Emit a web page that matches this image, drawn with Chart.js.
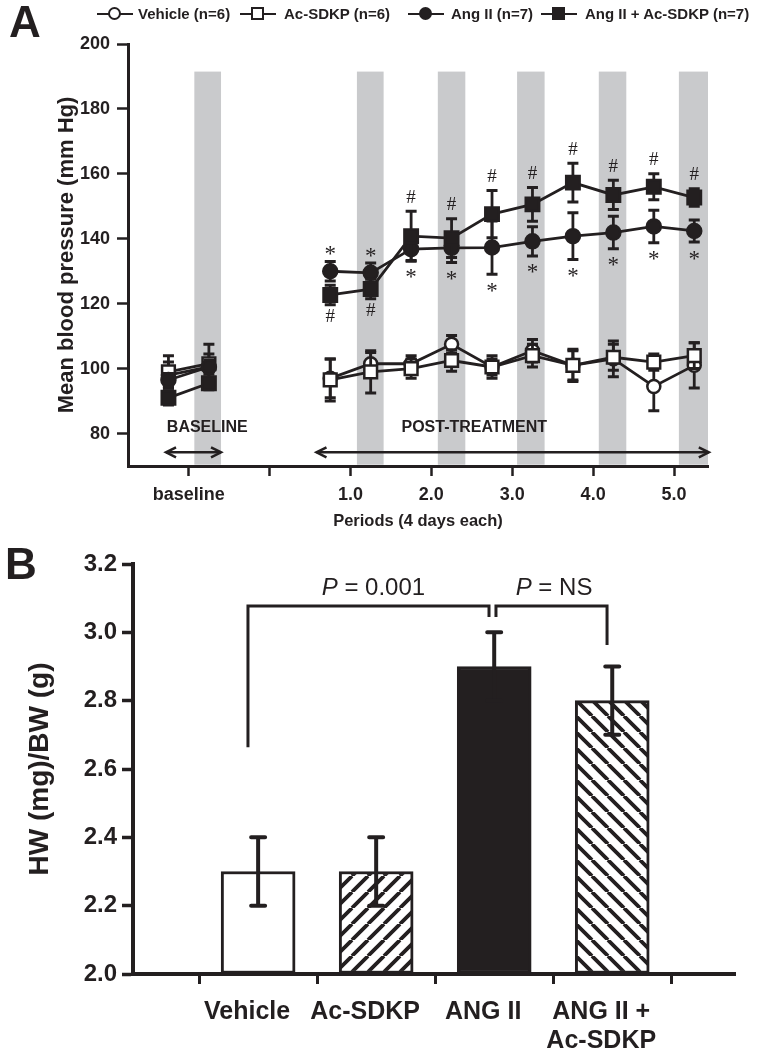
<!DOCTYPE html>
<html><head><meta charset="utf-8">
<script src="https://cdn.jsdelivr.net/npm/chart.js@4.4.1/dist/chart.umd.min.js"></script>
<style>
html,body{margin:0;padding:0;background:#fff;}
body{width:762px;height:1050px;position:relative;overflow:hidden;font-family:'Liberation Sans',Arial,sans-serif;color:#231f20;}
canvas{position:absolute;left:0;}
#cA{top:0;}
#cB{top:540px;}
.panel{position:absolute;font-weight:bold;font-size:44px;line-height:44px;}
.legtxt{position:absolute;top:6px;font-weight:bold;font-size:15px;line-height:16px;white-space:nowrap;}
.sym{position:absolute;top:6px;width:36px;height:16px;}
.sym .ln{position:absolute;left:0;width:36px;top:6.75px;height:2.5px;background:#231f20;}
.sym .mk{position:absolute;left:11px;top:1px;width:9px;height:9px;border:2.5px solid #231f20;background:#fff;}
.sym .mk.c{border-radius:50%;}
.sym .mk.f{background:#231f20;}
</style></head><body>
<canvas id="cA" width="762" height="540"></canvas>
<canvas id="cB" width="762" height="510"></canvas>
<div class="panel" style="left:9px;top:0px">A</div>
<div class="panel" style="left:5px;top:542px">B</div>
<div id="legend"></div>
<script>
// ---------------- DATA: panel A ----------------
const seriesNames = ['Vehicle (n=6)', 'Ac-SDKP (n=6)', 'Ang II (n=7)', 'Ang II + Ac-SDKP (n=7)'];
const periodTickValues = [-1, 0, 1, 2, 3, 4, 5];
const periodTickLabels = ['baseline', '', '1.0', '2.0', '3.0', '4.0', '5.0'];
const baselineTimes = [-1.25, -0.75];
const postTimes = [0.75, 1.25, 1.75, 2.25, 2.75, 3.25, 3.75, 4.25, 4.75, 5.25];

const vehicleBase = [98, 100.5];
const vehicleBaseErr = [4, 4];
const vehiclePost = [97, 101.5, 101.5, 107.5, 100.5, 105.5, 101, 103, 94.5, 101];
const vehiclePostErr = [6, 3.5, 2.5, 2.7, 2.5, 3.5, 4.5, 5.5, 7.5, 7];

const acBase = [99, 101.5];
const acBaseErr = [5, 6];
const acPost = [96.5, 99, 100, 102.5, 100.5, 104, 101, 103.5, 102, 104];
const acPostErr = [6.5, 6.5, 3, 3.3, 3.5, 3.5, 5, 4, 2.5, 4];

const angBase = [96.5, 100.5];
const angBaseErr = [2, 2];
const angPost = [130, 129.5, 136.8, 137.2, 137.3, 139.2, 140.8, 141.9, 143.8, 142.4];
const angPostErr = [3, 3, 3.5, 4.5, 8.2, 4.5, 7.2, 5, 5, 3.4];

const comboBase = [91, 95.5];
const comboBaseErr = [2.2, 2];
const comboPost = [122.7, 124.5, 140.8, 140.2, 147.6, 150.6, 157.3, 153.5, 156, 152.7];
const comboPostErr = [3, 3, 7.7, 6, 7.3, 5.2, 6, 4.5, 4, 2.7];

// significance marks on post-treatment points
const hashSide = ['below','below','above','above','above','above','above','above','above','above']; // Ang II + Ac-SDKP
const starSide = ['above','above','below','below','below','below','below','below','below','below']; // Ang II

// shaded periods (x ranges) and their vertical extent
const grayBands = [[-0.93, -0.60], [1.08, 1.41], [2.08, 2.42], [3.06, 3.40], [4.07, 4.41], [5.06, 5.42]];
const grayBandRange = [70.4, 191.5];

// ---------------- DATA: panel B ----------------
const hwCats = ['Vehicle', 'Ac-SDKP', 'ANG II', ['ANG II +', 'Ac-SDKP']];
const hwPos = [1, 2, 3, 4];
const hwMean = [2.3, 2.3, 2.9, 2.8];
const hwSem = [0.1, 0.1, 0.1, 0.1];
const hwTicks = [2.0, 2.2, 2.4, 2.6, 2.8, 3.0, 3.2];

// ---------------- helpers ----------------
const INK = '#231f20';
const F = "'Liberation Sans', Arial, sans-serif";
const SERIF = "'Liberation Serif', 'Times New Roman', serif";
function hasFont(name) {
  const c = document.createElement('canvas').getContext('2d');
  c.font = 'bold 40px monospace';
  const a = c.measureText('Ac-SDKP mmmWW').width;
  c.font = `bold 40px "${name}", monospace`;
  const b = c.measureText('Ac-SDKP mmmWW').width;
  return Math.abs(a - b) > 0.5;
}
const NARROW_OK = hasFont('Liberation Sans Narrow');
const FN = NARROW_OK ? "'Liberation Sans Narrow', 'Liberation Sans', Arial, sans-serif" : F;

function series(base, post) {
  return [...base.map((v, i) => ({x: baselineTimes[i], y: v})), {x: 0, y: null},
          ...post.map((v, i) => ({x: postTimes[i], y: v}))];
}
function errs(base, post) { return [...base, null, ...post]; }

// legend (HTML)
(function buildLegend() {
  const symLeft = [97, 240, 408, 541];
  const txtLeft = [138, 284, 451, 585];
  const mk = ['mk c', 'mk', 'mk c f', 'mk f'];
  const L = document.getElementById('legend');
  seriesNames.forEach((n, i) => {
    const s = document.createElement('div');
    s.className = 'sym'; s.style.left = symLeft[i] + 'px';
    s.innerHTML = '<div class="ln"></div><div class="' + mk[i] + '"></div>';
    L.appendChild(s);
    const t = document.createElement('div');
    t.className = 'legtxt'; t.style.left = txtLeft[i] + 'px'; t.textContent = n;
    L.appendChild(t);
  });
})();

// ---------------- plugins panel A ----------------
const bandsPlugin = {
  id: 'bands',
  beforeDatasetsDraw(chart) {
    const {ctx, scales: {x, y}} = chart;
    ctx.save();
    ctx.fillStyle = '#c9cacc';
    const yt = y.getPixelForValue(grayBandRange[1]), yb = y.getPixelForValue(grayBandRange[0]);
    grayBands.forEach(([a, b]) => {
      const xa = x.getPixelForValue(a), xb = x.getPixelForValue(b);
      ctx.fillRect(xa, yt, xb - xa, yb - yt);
    });
    ctx.restore();
  }
};
const errPluginA = {
  id: 'errA',
  beforeDatasetDraw(chart, args) {
    const ds = chart.data.datasets[args.index];
    if (!ds.err) return;
    const {ctx} = chart, ys = chart.scales.y;
    ctx.save();
    ctx.strokeStyle = INK;
    args.meta.data.forEach((pt, i) => {
      const v = ds.data[i].y, e = ds.err[i];
      if (v == null || e == null) return;
      const x = pt.x, yt = ys.getPixelForValue(v + e), yb = ys.getPixelForValue(v - e);
      ctx.lineWidth = 2.8;
      ctx.beginPath(); ctx.moveTo(x, yt); ctx.lineTo(x, yb); ctx.stroke();
      ctx.lineWidth = 3;
      ctx.beginPath();
      ctx.moveTo(x - 5.5, yt); ctx.lineTo(x + 5.5, yt);
      ctx.moveTo(x - 5.5, yb); ctx.lineTo(x + 5.5, yb);
      ctx.stroke();
    });
    ctx.restore();
  }
};
function centeredGlyph(ctx, ch, x, y) {
  const m = ctx.measureText(ch);
  const off = (m.actualBoundingBoxAscent - m.actualBoundingBoxDescent) / 2;
  ctx.fillText(ch, x, y + off);
}
function arrow(ctx, x1, x2, y) {
  const L = 10, W = 5;
  ctx.beginPath(); ctx.moveTo(x1, y); ctx.lineTo(x2, y); ctx.stroke();
  ctx.beginPath(); ctx.moveTo(x1 + L, y - W); ctx.lineTo(x1, y); ctx.lineTo(x1 + L, y + W); ctx.stroke();
  ctx.beginPath(); ctx.moveTo(x2 - L, y - W); ctx.lineTo(x2, y); ctx.lineTo(x2 - L, y + W); ctx.stroke();
}
const marksPluginA = {
  id: 'marksA',
  afterDatasetsDraw(chart) {
    const {ctx, scales: {x, y}} = chart;
    ctx.save();
    ctx.fillStyle = INK;
    ctx.textAlign = 'center';
    ctx.textBaseline = 'alphabetic';
    postTimes.forEach((t, i) => {
      const px = x.getPixelForValue(t);
      // # for Ang II + Ac-SDKP
      ctx.font = '19px ' + SERIF;
      if (hashSide[i] === 'above') centeredGlyph(ctx, '#', px, y.getPixelForValue(comboPost[i] + comboPostErr[i]) - 15);
      else centeredGlyph(ctx, '#', px, y.getPixelForValue(comboPost[i] - comboPostErr[i]) + 11);
      // * for Ang II
      ctx.font = '23px ' + SERIF;
      if (starSide[i] === 'above') centeredGlyph(ctx, '*', px, y.getPixelForValue(angPost[i] + angPostErr[i]) - 11);
      else centeredGlyph(ctx, '*', px, y.getPixelForValue(angPost[i] - angPostErr[i]) + 13);
    });
    // period annotations
    ctx.font = 'bold 16px ' + F;
    ctx.textBaseline = 'middle';
    ctx.fillText('BASELINE', x.getPixelForValue(-0.77), y.getPixelForValue(81.8));
    ctx.fillText('POST-TREATMENT', x.getPixelForValue(2.53), y.getPixelForValue(81.8));
    ctx.strokeStyle = INK;
    ctx.lineWidth = 2.5;
    arrow(ctx, x.getPixelForValue(-1.28), x.getPixelForValue(-0.60), y.getPixelForValue(74.2));
    arrow(ctx, x.getPixelForValue(0.58), x.getPixelForValue(5.43), y.getPixelForValue(74.2));
    ctx.restore();
  }
};

// ---------------- chart A ----------------
const lineBase = {showLine: true, spanGaps: false, borderColor: INK, borderWidth: 2.8,
  pointBorderColor: INK, pointBorderWidth: 2.5, pointHoverRadius: 0};
new Chart(document.getElementById('cA'), {
  type: 'scatter',
  data: {
    datasets: [
      Object.assign({}, lineBase, {label: seriesNames[0], data: series(vehicleBase, vehiclePost),
        err: errs(vehicleBaseErr, vehiclePostErr), pointStyle: 'circle', pointRadius: 6.5,
        pointBackgroundColor: '#fff', order: 4}),
      Object.assign({}, lineBase, {label: seriesNames[1], data: series(acBase, acPost),
        err: errs(acBaseErr, acPostErr), pointStyle: 'rect', pointRadius: 9,
        pointBackgroundColor: '#fff', order: 3}),
      Object.assign({}, lineBase, {label: seriesNames[2], data: series(angBase, angPost),
        err: errs(angBaseErr, angPostErr), pointStyle: 'circle', pointRadius: 7,
        pointBackgroundColor: INK, order: 2}),
      Object.assign({}, lineBase, {label: seriesNames[3], data: series(comboBase, comboPost),
        err: errs(comboBaseErr, comboPostErr), pointStyle: 'rect', pointRadius: 9.5,
        pointBackgroundColor: INK, order: 1})
    ]
  },
  options: {
    responsive: false, animation: false, devicePixelRatio: 1,
    layout: {padding: {left: 0, top: 44, right: 54, bottom: 0}},
    plugins: {legend: {display: false}, tooltip: {enabled: false}},
    scales: {
      x: {
        type: 'linear', min: -1.75, max: 5.42,
        afterFit(s) { s.height = 74; },
        afterBuildTicks(s) { s.ticks = periodTickValues.map(v => ({value: v})); },
        ticks: {
          callback: (v) => { const k = periodTickValues.indexOf(v); return k >= 0 ? periodTickLabels[k] : ''; },
          font: {family: F, size: 18, weight: 'bold'}, color: INK, padding: 8,
          maxRotation: 0, autoSkip: false
        },
        grid: {drawOnChartArea: false, drawTicks: true, tickLength: 10, tickWidth: 2.5, tickColor: INK},
        border: {display: true, color: INK, width: 3},
        title: {display: true, text: 'Periods (4 days each)', color: INK,
          font: {family: F, size: 16.5, weight: 'bold'}, padding: {top: 0, bottom: 9}}
      },
      y: {
        type: 'linear', min: 70, max: 200,
        afterFit(s) { s.width = 128; },
        afterBuildTicks(s) { s.ticks = [80, 100, 120, 140, 160, 180, 200].map(v => ({value: v})); },
        ticks: {font: {family: F, size: 18, weight: 'bold'}, color: INK, padding: 7},
        grid: {drawOnChartArea: false, drawTicks: true, tickLength: 11, tickWidth: 2.5, tickColor: INK},
        border: {display: true, color: INK, width: 3},
        title: {display: true, text: 'Mean blood pressure (mm Hg)', color: INK,
          font: {family: F, size: 22, weight: 'bold'}, padding: {top: 54, bottom: 0}}
      }
    }
  },
  plugins: [bandsPlugin, errPluginA, marksPluginA]
});

// ---------------- chart B ----------------
function hatch(dir) {
  const s = 16;
  const c = document.createElement('canvas'); c.width = s; c.height = s;
  const g = c.getContext('2d');
  g.fillStyle = '#fff'; g.fillRect(0, 0, s, s);
  g.strokeStyle = INK; g.lineWidth = 3.8;
  g.beginPath();
  for (const x0 of [-s, 0, s]) {
    if (dir === '/') { g.moveTo(x0, s); g.lineTo(x0 + s, 0); }
    else { g.moveTo(x0, 0); g.lineTo(x0 + s, s); }
  }
  g.stroke();
  return g.createPattern(c, 'repeat');
}
const ctxB = document.getElementById('cB').getContext('2d');
const fills = ['#fff', hatch('/'), INK, hatch('\\')];

const errPluginB = {
  id: 'errB',
  afterDatasetsDraw(chart) {
    const {ctx, scales: {y}} = chart;
    const meta = chart.getDatasetMeta(0);
    ctx.save();
    ctx.strokeStyle = INK;
    meta.data.forEach((bar, i) => {
      const x = bar.x, yt = y.getPixelForValue(hwMean[i] + hwSem[i]), yb = y.getPixelForValue(hwMean[i] - hwSem[i]);
      ctx.lineWidth = 4; ctx.lineCap = 'butt';
      ctx.beginPath(); ctx.moveTo(x, yt); ctx.lineTo(x, yb); ctx.stroke();
      ctx.lineWidth = 4; ctx.lineCap = 'round';
      ctx.beginPath(); ctx.moveTo(x - 7, yt); ctx.lineTo(x + 7, yt); ctx.moveTo(x - 7, yb); ctx.lineTo(x + 7, yb); ctx.stroke();
    });
    // significance brackets
    const brackets = [
      {x1: 0.914, x2: 2.956, top: 3.077, e1: 2.664, e2: 3.045},
      {x1: 3.015, x2: 3.956, top: 3.077, e1: 3.045, e2: 2.963}
    ];
    const xs = chart.scales.x;
    ctx.lineWidth = 3; ctx.lineCap = 'butt'; ctx.lineJoin = 'miter';
    brackets.forEach(b => {
      ctx.beginPath();
      ctx.moveTo(xs.getPixelForValue(b.x1), y.getPixelForValue(b.e1));
      ctx.lineTo(xs.getPixelForValue(b.x1), y.getPixelForValue(b.top));
      ctx.lineTo(xs.getPixelForValue(b.x2), y.getPixelForValue(b.top));
      ctx.lineTo(xs.getPixelForValue(b.x2), y.getPixelForValue(b.e2));
      ctx.stroke();
    });
    // P labels
    const labels = [{x: 1.977, rest: ' = 0.001'}, {x: 3.507, rest: ' = NS'}];
    ctx.fillStyle = INK; ctx.textBaseline = 'middle'; ctx.textAlign = 'left';
    labels.forEach(l => {
      ctx.font = 'italic 24px ' + F; const wP = ctx.measureText('P').width;
      ctx.font = '24px ' + F; const wR = ctx.measureText(l.rest).width;
      const cx = xs.getPixelForValue(l.x), cy = y.getPixelForValue(3.130);
      const x0 = cx - (wP + wR) / 2;
      ctx.font = 'italic 24px ' + F; ctx.fillText('P', x0, cy);
      ctx.font = '24px ' + F; ctx.fillText(l.rest, x0 + wP, cy);
    });
    ctx.restore();
  }
};

new Chart(ctxB, {
  type: 'bar',
  data: {
    datasets: [{
      data: hwMean.map((v, i) => ({x: hwPos[i], y: v})),
      backgroundColor: fills, borderColor: INK, borderWidth: 3, borderSkipped: false,
      barThickness: 74, base: 2.0
    }]
  },
  options: {
    responsive: false, animation: false, devicePixelRatio: 1,
    layout: {padding: {left: 0, top: 24, right: 27, bottom: 0}},
    plugins: {legend: {display: false}, tooltip: {enabled: false}},
    scales: {
      x: {
        type: 'linear', min: -0.06, max: 5.04, offset: false,
        afterFit(s) { s.height = 76; },
        afterBuildTicks(s) { s.ticks = hwPos.map(v => ({value: v})); },
        ticks: {
          callback: (v) => { const k = hwPos.indexOf(v); return k >= 0 ? hwCats[k] : ''; },
          font: {family: FN, size: NARROW_OK ? 31 : 25, weight: 'bold', lineHeight: NARROW_OK ? 0.93 : 1.15},
          color: INK, padding: 14, labelOffset: -11, maxRotation: 0, autoSkip: false
        },
        grid: {drawOnChartArea: false, drawTicks: true, tickLength: 10, tickWidth: 3, tickColor: INK},
        border: {display: true, color: INK, width: 4}
      },
      y: {
        type: 'linear', min: 2.0, max: 3.2,
        afterFit(s) { s.width = 133; },
        afterBuildTicks(s) { s.ticks = hwTicks.map(v => ({value: v})); },
        ticks: {callback: (v) => Number(v).toFixed(1),
          font: {family: FN, size: NARROW_OK ? 28 : 24, weight: 'bold'}, color: INK, padding: 5},
        grid: {drawOnChartArea: false, drawTicks: true, tickLength: 11, tickWidth: 3.5, tickColor: INK},
        border: {display: true, color: INK, width: 4},
        title: {display: true, text: 'HW (mg)/BW (g)', color: INK,
          font: {family: F, size: 28, weight: 'bold'}, padding: {top: 23, bottom: 0}}
      }
    }
  },
  plugins: [errPluginB]
});
</script>
</body></html>
